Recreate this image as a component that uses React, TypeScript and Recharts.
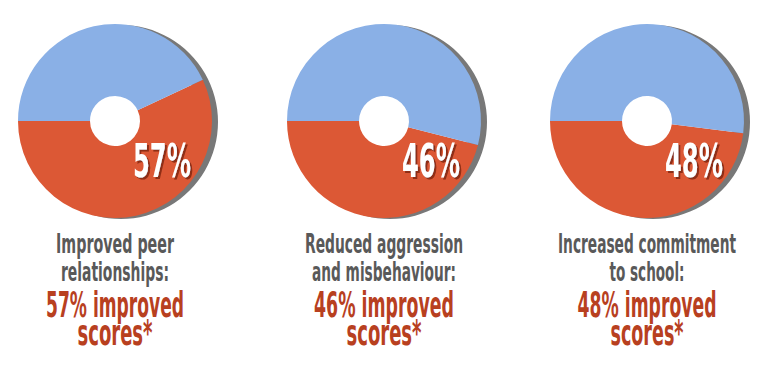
import React from 'react';
import { PieChart, Pie, Cell } from 'recharts';

// values
const improved = [57, 46, 48];
const captionLines = [
  ['Improved peer', 'relationships:'],
  ['Reduced aggression', 'and misbehaviour:'],
  ['Increased commitment', 'to school:'],
];
const resultLabel = 'improved';
const footnoteLabel = 'scores*';

// layout (pixels)
const W = 775;
const H = 381;
const CENTERS = [115, 384, 647];
const CY = 121;
const R = 97;
const HOLE = 25;
const LINE_WIDTHS = [
  [118, 108, 138, 75],
  [158, 144, 140, 75],
  [178, 75, 139, 73],
];

const BLUE = '#8ab0e6';
const RED = '#dc5835';
const SHADOW = '#787878';
const GRAY_TEXT = '#595959';
const RED_TEXT = '#b8401f';
const FONT = '"Liberation Sans Narrow", "DejaVu Sans Condensed", Roboto, sans-serif';

const renderPct = (props: any) => {
  if (props.index !== 0) return null;
  const x = props.cx + 47;
  const y = props.cy + 56;
  const id = `pct-shadow-${Math.round(props.cx)}`;
  return (
    <g>
      <defs>
        <filter id={id} x="-20%" y="-20%" width="140%" height="140%">
          <feDropShadow dx={2} dy={2} stdDeviation={0.4} floodColor="#8f2f15" floodOpacity={1} />
        </filter>
      </defs>
      <text
        x={x}
        y={y}
        textAnchor="middle"
        fontFamily={FONT}
        fontWeight={700}
        fontSize={46}
        textLength={58}
        lengthAdjust="spacingAndGlyphs"
        fill="#ffffff"
        filter={`url(#${id})`}
      >
        {`${props.value}%`}
      </text>
    </g>
  );
};

export default function App() {
  return (
    <div style={{ position: 'absolute', left: 0, top: 0, width: W, height: H, background: '#fff' }}>
      <PieChart
        width={W}
        height={H}
        margin={{ top: 0, right: 0, bottom: 0, left: 0 }}
        style={{ position: 'absolute', left: 0, top: 0 }}
      >
        {improved.map((v, i) => (
          <Pie
            key={`shadow-${i}`}
            data={[{ name: 'shadow', value: 1 }]}
            dataKey="value"
            cx={CENTERS[i] + 6}
            cy={CY + 1}
            innerRadius={80}
            outerRadius={R}
            stroke="none"
            fill={SHADOW}
            isAnimationActive={false}
          />
        ))}
        {improved.map((v, i) => (
          <Pie
            key={`pie-${i}`}
            data={[
              { name: 'improved', value: v },
              { name: 'other', value: 100 - v },
            ]}
            dataKey="value"
            cx={CENTERS[i]}
            cy={CY}
            innerRadius={HOLE}
            outerRadius={R}
            startAngle={180}
            endAngle={540}
            stroke="none"
            label={renderPct}
            labelLine={false}
            isAnimationActive={false}
          >
            <Cell fill={RED} />
            <Cell fill={BLUE} />
          </Pie>
        ))}
      </PieChart>
      <svg width={W} height={H} style={{ position: 'absolute', left: 0, top: 0 }}>
        {improved.map((v, i) => {
          const lines = [captionLines[i][0], captionLines[i][1], `${v}% ${resultLabel}`, footnoteLabel];
          const ys = [253, 281, 317, 345];
          return lines.map((t, j) => (
            <text
              key={`${i}-${j}`}
              x={CENTERS[i]}
              y={ys[j]}
              textAnchor="middle"
              fontFamily={FONT}
              fontWeight={700}
              fontSize={j < 2 ? 27 : 35}
              fill={j < 2 ? GRAY_TEXT : RED_TEXT}
              textLength={LINE_WIDTHS[i][j]}
              lengthAdjust="spacingAndGlyphs"
            >
              {t}
            </text>
          ));
        })}
      </svg>
    </div>
  );
}
